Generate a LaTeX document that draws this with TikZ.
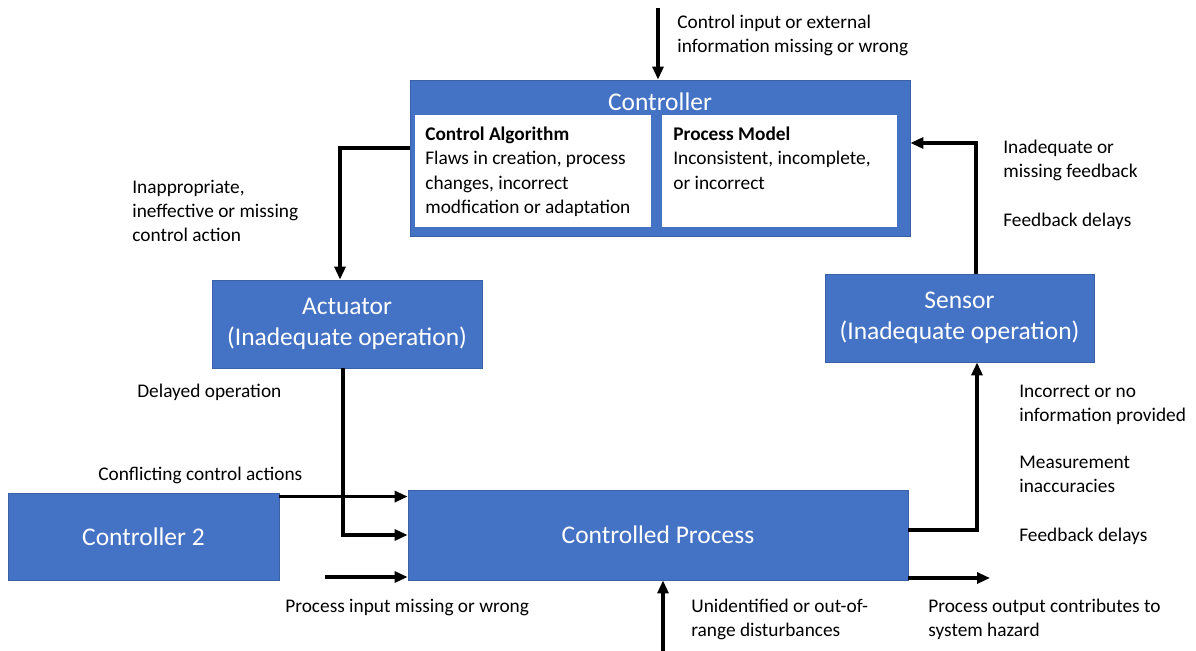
\documentclass[tikz,border=0pt]{standalone}
\usepackage{fontspec}
\setmainfont{Carlito}
\usepackage{tikz}
\usetikzlibrary{arrows.meta,positioning}
\definecolor{blu}{HTML}{4472C4}
\tikzset{
  blk/.style  = {fill=blu, draw=blu!85!black, line width=0.5pt, text=white, align=center,
                 font=\fontsize{14.5}{17.5}\selectfont},
  wbox/.style = {fill=white, draw=none},
  lbl/.style  = {inner sep=0pt, anchor=north west, align=left, font=\fontsize{11}{13.7}\selectfont},
  line/.style = {-{Triangle[length=2.6mm,width=2.2mm]}, line width=1.75pt},
}

\begin{document}
\begin{tikzpicture}[x=0.02cm,y=-0.02cm]
    \useasboundingbox (0,0) rectangle (1196,651);
    % boxes
    \node[blk,minimum width=10cm,minimum height=3.12cm] (ctrl) at (660,158) {};
    \node[text=white,font=\fontsize{14.5}{17.5}\selectfont] (ctrlt) at (660,102) {Controller};
    \node[wbox,minimum width=4.72cm,minimum height=2.24cm] (alg) at (533,171) {};
    \node[wbox,minimum width=4.7cm,minimum height=2.24cm] (pm) at (779.5,171) {};
    \node[lbl] (algt) at (425,127) {\textbf{Control Algorithm}\\Flaws in creation, process\\changes, incorrect\\modfication or adaptation};
    \node[lbl] (pmt) at (673,127) {\textbf{Process Model}\\Inconsistent, incomplete,\\or incorrect};
    \node[blk,minimum width=5.4cm,minimum height=1.76cm] (act) at (347,324) {Actuator\\(Inadequate operation)};
    \node[blk,minimum width=5.38cm,minimum height=1.76cm] (sen) at (959.5,318) {Sensor\\(Inadequate operation)};
    \node[blk,minimum width=5.42cm,minimum height=1.74cm] (c2) at (143.5,536.5) {Controller 2};
    \node[blk,minimum width=10cm,minimum height=1.8cm] (proc) at (658,535) {Controlled Process};

    % labels
    \node[lbl] (tin) at (677,15) {Control input or external\\information missing or wrong};
    \node[lbl] (tact) at (132,180) {Inappropriate,\\ineffective or missing\\control action};
    \node[lbl] (tdel) at (137,384) {Delayed operation};
    \node[lbl] (tconf) at (98,467) {Conflicting control actions};
    \node[lbl] (tpin) at (285,599) {Process input missing or wrong};
    \node[lbl] (tdist) at (691,599) {Unidentified or out-of-\\range disturbances};
    \node[lbl] (tout) at (928,599) {Process output contributes to\\system hazard};
    \node[lbl] (tfb) at (1003,140) {Inadequate or\\missing feedback};
    \node[lbl] (tfbd) at (1003,213) {Feedback delays};
    \node[lbl] (tinc) at (1019,385) {Incorrect or no\\information provided};
    \node[lbl] (tmeas) at (1019,456) {Measurement\\inaccuracies};
    \node[lbl] (tfbd2) at (1019,528) {Feedback delays};

    % connectors
    \coordinate (in) at (658,8);
    \coordinate (pin) at (325,577);
    \coordinate (dist) at (663,651);
    \coordinate (pout) at (990,578);
    \draw[line] (in) -- (in |- ctrl.north);
    \draw[line] ([yshift=0.2cm]ctrl.west) -| ([xshift=-0.14cm]act.north);
    \draw[line] ([xshift=-0.08cm]act.south) |- (proc.west);
    \draw[line] ([yshift=-0.08cm]c2.north east) -- ([yshift=-0.08cm]c2.north east -| proc.west);
    \draw[line] (pin) -- (pin -| proc.west);
    \draw[line] (dist) -- (dist |- proc.south);
    \draw[line] (pout -| proc.east) -- (pout);
    \draw[line] ([yshift=0.1cm]proc.east) -| ([xshift=0.35cm]sen.south);
    \draw[line] ([xshift=0.33cm]sen.north) |- ([yshift=0.3cm]ctrl.east);
\end{tikzpicture}
\end{document}
